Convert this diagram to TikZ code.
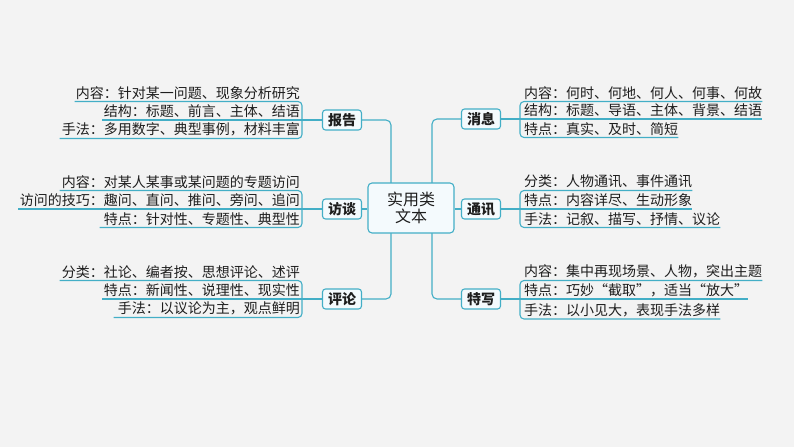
\documentclass[tikz,border=0pt]{standalone}
\usepackage{fontspec}
\newfontfamily\cjk{Noto Sans CJK SC}
\definecolor{lk}{HTML}{43AEC6}
\definecolor{bxfill}{HTML}{F4FAFD}
\definecolor{bg}{HTML}{F3F3F3}
\definecolor{tx}{HTML}{1E1E1E}
\tikzset{
  link/.style={draw=lk, line width=1.1pt, rounded corners=4pt},
  topic/.style={draw=lk, line width=1.1pt, fill=bxfill, rounded corners=3pt, minimum width=39pt, minimum height=20pt, inner sep=0pt, font=\cjk\bfseries\fontsize{14}{16}\selectfont, text=tx},
  central/.style={draw=lk, line width=1.1pt, fill=bxfill, rounded corners=4pt, minimum width=86pt, minimum height=50pt, inner sep=0pt, align=center, font=\cjk\fontsize{16}{17}\selectfont, text=tx},
  rtxt/.style={anchor=south west, inner xsep=0pt, inner ysep=2pt, font=\cjk\fontsize{14}{16}\selectfont, text=tx},
  ltxt/.style={anchor=south east, inner xsep=0pt, inner ysep=2pt, font=\cjk\fontsize{14}{16}\selectfont, text=tx},
}
\begin{document}
\begin{tikzpicture}[x=1pt, y=-1pt]
\fill[bg] (0,0) rectangle (794,447);
\useasboundingbox (0,0) rectangle (794,447);

% topic boxes
\node[topic] (bg1) at (342,120) {报告};
\node[topic] (ft) at (342,209) {访谈};
\node[topic] (pl) at (342,299) {评论};
\node[topic] (xx) at (481,119) {消息};
\node[topic] (tx1) at (481,209) {通讯};
\node[topic] (tw) at (481,299) {特写};

% trunk coordinates
\coordinate (trL) at (391,208);
\coordinate (trR) at (432,208);
\draw[link, rounded corners=5pt] (bg1.east) -| (trL) |- (pl.east);
\draw[link, rounded corners=5pt] (xx.west) -| (trR) |- (tw.west);

% central
\node[central] (c) at (411,208) {实用类\\文本};
\draw[link] (ft.east) -- (ft.east -| c.west);
\draw[link] (c.east |- tx1.west) -- (tx1.west);

% ---------- left groups ----------
% 报告
\coordinate (bL1) at (302,120);
\node[ltxt] (a1) at (300,101.5) {内容：针对某一问题、现象分析研究};
\node[ltxt] (a2) at (300,120) {结构：标题、前言、主体、结语};
\node[ltxt] (a3) at (300,138.5) {手法：多用数字、典型事例，材料丰富};
\draw[link] (bg1.west) -- ([xshift=-2pt]a2.south west);
\draw[link] (bL1) |- ([xshift=-1pt]a1.south west);
\draw[link] (bL1) |- ([xshift=-2pt]a3.south west);

% 访谈
\coordinate (bL2) at (302,209);
\node[ltxt] (b1) at (300,190.5) {内容：对某人某事或某问题的专题访问};
\node[ltxt] (b2) at (300,209) {访问的技巧：趣问、直问、推问、旁问、追问};
\node[ltxt] (b3) at (300,227.5) {特点：针对性、专题性、典型性};
\draw[link] (ft.west) -- ([xshift=-2pt]b2.south west);
\draw[link] (bL2) |- ([xshift=-2pt]b1.south west);
\draw[link] (bL2) |- ([xshift=-4pt]b3.south west);

% 评论
\coordinate (bL3) at (302,299);
\node[ltxt] (d1) at (300,280.5) {分类：社论、编者按、思想评论、述评};
\node[ltxt] (d2) at (300,299) {特点：新闻性、说理性、现实性};
\node[ltxt] (d3) at (300,317.5) {手法：以议论为主，观点鲜明};
\draw[link] (pl.west) -- ([xshift=-2pt]d2.south west);
\draw[link] (bL3) |- ([xshift=-2pt]d1.south west);
\draw[link] (bL3) |- ([xshift=-4pt]d3.south west);

% ---------- right groups ----------
% 消息
\coordinate (bR1) at (520,119);
\node[rtxt] (e1) at (524,101.5) {内容：何时、何地、何人、何事、何故};
\node[rtxt] (e2) at (524,119) {结构：标题、导语、主体、背景、结语};
\node[rtxt] (e3) at (524,137.5) {特点：真实、及时、简短};
\draw[link] (xx.east) -- (e2.south east);
\draw[link] (bR1) |- (e1.south east);
\draw[link] (bR1) |- (e3.south east);

% 通讯
\coordinate (bR2) at (520,209);
\node[rtxt] (f1) at (524,190.5) {分类：人物通讯、事件通讯};
\node[rtxt] (f2) at (524,209) {特点：内容详尽、生动形象};
\node[rtxt] (f3) at (524,227.5) {手法：记叙、描写、抒情、议论};
\draw[link] (tx1.east) -- (f2.south east);
\draw[link] (bR2) |- (f1.south east);
\draw[link] (bR2) |- (f3.south east);

% 特写
\coordinate (bR3) at (520,299);
\node[rtxt] (g1) at (524,280.5) {内容：集中再现场景、人物，突出主题};
\node[rtxt] (g2) at (524,299) {特点：巧妙“截取”，适当“放大”};
\node[rtxt] (g3) at (524,319) {手法：以小见大，表现手法多样};
\draw[link] (tw.east) -- (g2.south east);
\draw[link] (bR3) |- (g1.south east);
\draw[link] (bR3) |- (g3.south east);
\end{tikzpicture}
\end{document}
